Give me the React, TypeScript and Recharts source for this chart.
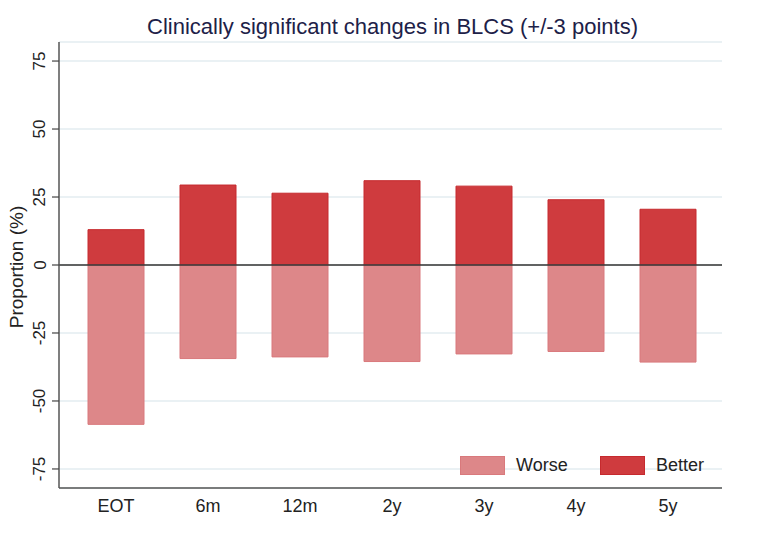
import { BarChart, Bar, XAxis, YAxis, CartesianGrid, ReferenceLine } from "recharts";

// Time points after baseline
const timepoints = ["EOT", "6m", "12m", "2y", "3y", "4y", "5y"];
// Proportion (%) of patients improving by >= 3 points
const betterPct = [13, 29.4, 26.4, 31, 29, 24, 20.5];
// Proportion (%) of patients worsening by >= 3 points (drawn below zero)
const worsePct = [58.6, 34.4, 33.8, 35.5, 32.7, 31.8, 35.7];
const yTicks = [-75, -50, -25, 0, 25, 50, 75];

const BETTER = "#cf3b3e";
const WORSE = "#dd8789";
const FONT = "'Liberation Sans', Arial, sans-serif";

const data = timepoints.map((t, i) => ({
  name: t,
  better: betterPct[i],
  worse: -worsePct[i],
}));

function YTick(props: any) {
  const { x, y, payload } = props;
  return (
    <g>
      <line x1={x + 1} x2={x + 8} y1={y} y2={y} stroke="#444" strokeWidth={1.2} />
      <text
        x={x - 11}
        y={y}
        transform={`rotate(-90, ${x - 11}, ${y})`}
        textAnchor="middle"
        dominantBaseline="central"
        fontSize={17}
        fontFamily={FONT}
        fill="#222"
      >
        {payload.value}
      </text>
    </g>
  );
}

function LegendBox() {
  const items = [
    { label: "Worse", color: WORSE, edge: "#d9797c" },
    { label: "Better", color: BETTER, edge: "#c62a2e" },
  ];
  return (
    <div
      style={{
        position: "absolute",
        left: 460,
        top: 455,
        display: "flex",
        fontFamily: FONT,
        fontSize: 18,
        color: "#222",
      }}
    >
      {items.map((it) => (
        <div key={it.label} style={{ display: "flex", alignItems: "center", width: 140 }}>
          <div
            style={{
              width: 45,
              height: 19,
              background: it.color,
              border: `1px solid ${it.edge}`,
              boxSizing: "border-box",
              marginRight: 11,
            }}
          />
          <span>{it.label}</span>
        </div>
      ))}
    </div>
  );
}

export default function App() {
  return (
    <div style={{ position: "absolute", left: 0, top: 0, width: 760, height: 535, background: "#fff" }}>
      <BarChart
        width={760}
        height={535}
        data={data}
        stackOffset="sign"
        barSize={56}
        margin={{ top: 42, right: 38, bottom: 0, left: 0 }}
      >
        <CartesianGrid horizontal vertical={false} stroke="#e3edf0" strokeWidth={1.5} />
        <XAxis
          dataKey="name"
          height={47}
          padding={{ left: 11, right: 8 }}
          tickLine={false}
          axisLine={{ stroke: "#555", strokeWidth: 1.5 }}
          tick={{ fontSize: 18, fontFamily: FONT, fill: "#222", dy: 3 }}
        />
        <YAxis
          width={59}
          type="number"
          domain={[-82, 82]}
          ticks={yTicks}
          interval={0}
          tickLine={false}
          axisLine={{ stroke: "#555", strokeWidth: 1.5 }}
          tick={<YTick />}
        />
        <Bar dataKey="better" stackId="s" fill={BETTER} stroke="#c62a2e" strokeWidth={1} isAnimationActive={false} />
        <Bar dataKey="worse" stackId="s" fill={WORSE} stroke="#d9797c" strokeWidth={1} isAnimationActive={false} />
        <ReferenceLine y={0} stroke="#333" strokeWidth={1.5} />
      </BarChart>
      <div
        style={{
          position: "absolute",
          top: 14,
          left: 0,
          width: 785,
          textAlign: "center",
          fontFamily: FONT,
          fontSize: 22,
          color: "#1d2148",
        }}
      >
        Clinically significant changes in BLCS (+/-3 points)
      </div>
      <div
        style={{
          position: "absolute",
          left: 17,
          top: 267,
          transform: "translate(-50%, -50%) rotate(-90deg)",
          fontFamily: FONT,
          fontSize: 19,
          color: "#222",
          whiteSpace: "nowrap",
        }}
      >
        Proportion (%)
      </div>
      <LegendBox />
    </div>
  );
}
